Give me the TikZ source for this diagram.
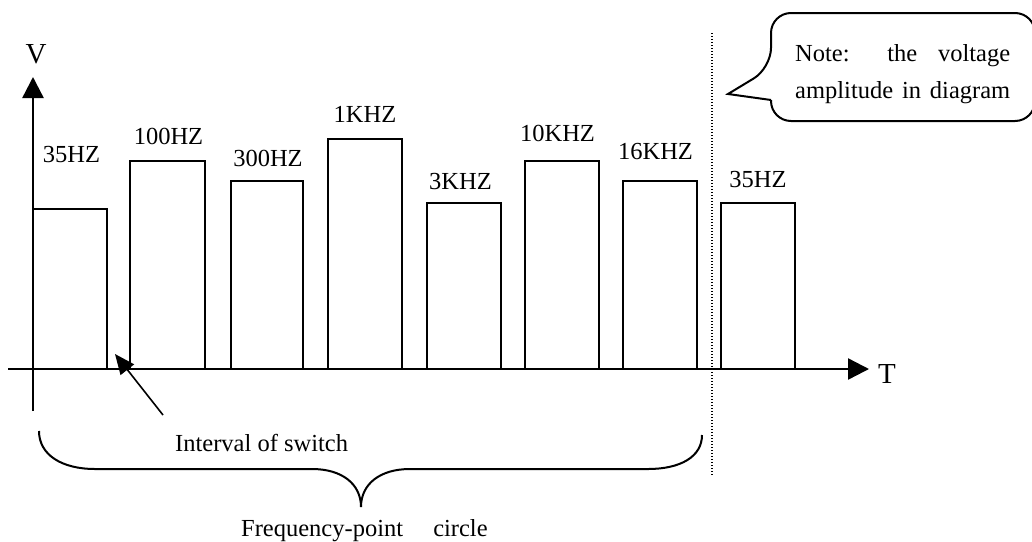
\documentclass[tikz,border=0pt]{standalone}
\usepackage{fontspec}
\setmainfont{Liberation Serif}
\usetikzlibrary{arrows.meta}
\begin{document}
\begin{tikzpicture}[x=1pt,y=-1pt,
  lbl/.style={font=\fontsize{24.5}{28}\selectfont, inner sep=0pt, anchor=base},
  axislbl/.style={font=\fontsize{29}{32}\selectfont, inner sep=0pt, anchor=base},
  bar/.style={line width=2pt, line join=miter},
  axisline/.style={line width=2.4pt, -{Triangle[length=21pt,width=21pt]}},
  pointer/.style={line width=1.6pt, -{Triangle[length=20pt,width=17pt]}},
  brace/.style={line width=2pt},
  bubble/.style={line width=2pt},
  dotline/.style={line width=1.4pt, dash pattern=on 1.4pt off 1.6pt}]
\useasboundingbox (0,0) rectangle (1032,541);

% axes
\coordinate (yfoot) at (33,411);
\coordinate (ytop) at (33,77);
\coordinate (xleft) at (8,369);
\coordinate (xright) at (869,369);
\draw[axisline] (yfoot) -- (ytop);
\draw[axisline] (xleft) -- (xright);
\node[axislbl] (V) at (36,63) {V};
\node[axislbl] (T) at (887,383) {T};

% pulses of one frequency-point circle, then the next one
\draw[bar] (33,369) |- (107,209) -- (107,369);
\draw[bar] (130,369) |- (205,161) -- (205,369);
\draw[bar] (231,369) |- (303,181) -- (303,369);
\draw[bar] (328,369) |- (402,139) -- (402,369);
\draw[bar] (427,369) |- (501,203) -- (501,369);
\draw[bar] (525,369) |- (599,161) -- (599,369);
\draw[bar] (623,369) |- (697,181) -- (697,369);
\draw[bar] (721,369) |- (795,203) -- (795,369);

% frequency labels
\node[lbl] (f1) at (71.5,162) {35HZ};
\node[lbl] (f2) at (168.5,144) {100HZ};
\node[lbl] (f3) at (268,166) {300HZ};
\node[lbl] (f4) at (365,122) {1KHZ};
\node[lbl] (f5) at (460.5,189) {3KHZ};
\node[lbl] (f6) at (557.5,141) {10KHZ};
\node[lbl] (f7) at (655.5,159) {16KHZ};
\node[lbl] (f8) at (758,187) {35HZ};

% end of the circle
\draw[dotline] (712,33) -- (712,475);

% switching gap
\coordinate (gap) at (115,354);
\coordinate (gaptail) at (163,415);
\draw[pointer] (gaptail) -- (gap);
\node[lbl, anchor=base west] (interval) at (175,451) {Interval of switch};

% brace under one circle
\coordinate (bl) at (39,431);
\coordinate (btip) at (361,507);
\coordinate (br) at (702,435);
\draw[brace] (bl) .. controls (39,455) and (62,469) .. (95,469) -- (312,469)
  .. controls (342,469) and (361,484) .. (btip)
  .. controls (361,484) and (380,469) .. (410,469) -- (648,469)
  .. controls (680,469) and (702,457) .. (br);
\node[lbl, anchor=base west] (circle) at (241,536) {Frequency-point\hspace{24pt} circle};

% callout
\draw[bubble, rounded corners=20pt] (771,100) -- (771,121) -- (1035,121) -- (1035,13) -- (771,13) -- (771,68)
  [sharp corners] -- (728,94) -- (771,100);
\node[lbl, anchor=base west] (note1) at (795,61) {\makebox[215pt][s]{Note: the voltage}};
\node[lbl, anchor=base west] (note2) at (795,98) {\makebox[215pt][s]{amplitude in diagram}};
\end{tikzpicture}
\end{document}
